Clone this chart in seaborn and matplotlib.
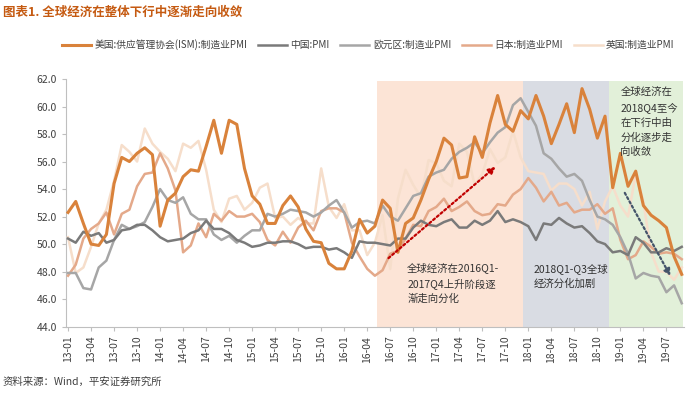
import numpy as np
import pandas as pd
import matplotlib.pyplot as plt
import seaborn as sns

# monthly PMI, 2013-01 .. 2019-09
us = [52.3, 53.1, 51.5, 50.0, 49.9, 50.7, 54.4, 56.3, 56.0, 56.6, 57.0, 56.5,
      51.3, 53.2, 53.7, 54.9, 55.4, 55.3, 57.1, 59.0, 56.6, 59.0, 58.7, 55.5,
      53.5, 52.9, 51.5, 51.5, 52.8, 53.5, 52.7, 51.1, 50.2, 50.1, 48.6, 48.2,
      48.2, 49.5, 51.8, 50.8, 51.3, 53.2, 52.6, 49.4, 51.5, 51.9, 53.2, 54.7,
      56.0, 57.7, 57.2, 54.8, 54.9, 57.8, 56.3, 58.8, 60.8, 58.7, 58.2, 59.7,
      59.1, 60.8, 59.3, 57.3, 58.7, 60.2, 58.1, 61.3, 59.8, 57.7, 59.3, 54.1,
      56.6, 54.2, 55.3, 52.8, 52.1, 51.7, 51.2, 49.1, 47.8]
china = [50.4, 50.1, 50.9, 50.6, 50.8, 50.1, 50.3, 51.0, 51.1, 51.4, 51.4, 51.0,
         50.5, 50.2, 50.3, 50.4, 50.8, 51.0, 51.7, 51.1, 51.1, 50.8, 50.3, 50.1,
         49.8, 49.9, 50.1, 50.1, 50.2, 50.2, 50.0, 49.7, 49.8, 49.8, 49.6, 49.7,
         49.4, 49.0, 50.2, 50.1, 50.1, 50.0, 49.9, 50.4, 50.4, 51.2, 51.7, 51.4,
         51.3, 51.6, 51.8, 51.2, 51.2, 51.7, 51.4, 51.7, 52.4, 51.6, 51.8, 51.6,
         51.3, 50.3, 51.5, 51.4, 51.9, 51.5, 51.2, 51.3, 50.8, 50.2, 50.0, 49.4,
         49.5, 49.2, 50.5, 50.1, 49.4, 49.4, 49.7, 49.5, 49.8]
euro = [47.9, 47.9, 46.8, 46.7, 48.3, 48.8, 50.3, 51.4, 51.1, 51.3, 51.6, 52.7,
        54.0, 53.2, 53.0, 53.4, 52.2, 51.8, 51.8, 50.7, 50.3, 50.6, 50.1, 50.6,
        51.0, 51.0, 52.2, 52.0, 52.2, 52.5, 52.4, 52.3, 52.0, 52.3, 52.8, 53.2,
        52.3, 51.2, 51.6, 51.7, 51.5, 52.8, 52.0, 51.7, 52.6, 53.5, 53.7, 54.9,
        55.2, 55.4, 56.2, 56.7, 57.0, 57.4, 56.6, 57.4, 58.1, 58.5, 60.1, 60.6,
        59.6, 58.6, 56.6, 56.2, 55.5, 54.9, 55.1, 54.6, 53.2, 52.0, 51.8, 51.4,
        50.5, 49.3, 47.5, 47.9, 47.7, 47.6, 46.5, 47.0, 45.7]
japan = [47.7, 48.5, 50.4, 51.1, 51.5, 52.3, 50.7, 52.2, 52.5, 54.2, 55.1, 55.2,
         56.6, 55.5, 53.9, 49.4, 49.9, 51.5, 50.5, 52.2, 51.7, 52.4, 52.0, 52.0,
         52.2, 51.6, 50.3, 49.9, 50.9, 50.1, 51.2, 51.7, 51.0, 52.4, 52.6, 52.6,
         52.3, 50.1, 49.1, 48.2, 47.7, 48.1, 49.3, 49.5, 50.4, 51.4, 51.3, 52.4,
         52.7, 53.3, 52.4, 52.7, 53.1, 52.4, 52.1, 52.2, 52.9, 52.8, 53.6, 54.0,
         54.8, 54.1, 53.1, 53.8, 52.8, 53.0, 52.3, 52.5, 52.5, 52.9, 52.2, 52.6,
         50.3, 48.9, 49.2, 50.2, 49.8, 49.3, 49.4, 49.3, 48.9]
uk = [50.5, 47.9, 48.3, 49.8, 51.5, 52.5, 54.6, 57.2, 56.7, 56.0, 58.4, 57.3,
      56.7, 56.2, 55.3, 57.3, 57.0, 57.5, 55.4, 52.5, 51.6, 53.3, 53.5, 52.5,
      53.0, 54.1, 54.4, 51.9, 52.0, 51.4, 51.9, 51.5, 51.5, 55.5, 52.7, 51.9,
      52.9, 51.0, 51.0, 49.2, 50.1, 52.1, 48.2, 53.3, 55.4, 54.3, 53.4, 56.1,
      55.9, 54.6, 54.2, 57.3, 56.7, 54.3, 55.1, 56.9, 55.9, 56.3, 58.2, 56.3,
      55.3, 55.2, 55.1, 53.9, 54.4, 54.4, 54.0, 52.8, 53.8, 51.1, 53.1, 54.2,
      52.8, 52.0, 55.1, 53.1, 49.4, 48.0, 48.0, 47.4, 48.3]

names = ["美国:供应管理协会(ISM):制造业PMI", "中国:PMI", "欧元区:制造业PMI",
         "日本:制造业PMI", "英国:制造业PMI"]
colors = ["#D9823B", "#7A7A7A", "#A6A6A6", "#E4A98A", "#F6DECB"]
widths = [2.2, 1.8, 1.8, 1.8, 1.8]

months = pd.period_range("2013-01", "2019-09", freq="M")
month_labels = list(months.strftime("%y-%m"))

df = pd.DataFrame({"idx": np.arange(len(months))})
for n, s in zip(names, [us, china, euro, japan, uk]):
    df[n] = s
long = df.melt(id_vars="idx", var_name="series", value_name="pmi")

plt.rcParams['font.family'] = ['Noto Sans CJK SC', 'DejaVu Sans']
fig = plt.figure(figsize=(6.92, 3.94), dpi=100)
ax = fig.add_axes([0.095, 0.171, 0.8935, 0.6285])

# phase shading
ax.axvspan(40.3, 59.3, ymin=0, ymax=0.993, color="#FCE4D6", lw=0, zorder=0)
ax.axvspan(59.3, 70.5, ymin=0, ymax=0.993, color="#D9DCE3", lw=0, zorder=0)
ax.axvspan(70.5, 80.2, ymin=0, ymax=0.993, color="#E2F0D9", lw=0, zorder=0)

# draw back-to-front so the US line stays on top
for n, c, w in list(zip(names, colors, widths))[::-1]:
    sns.lineplot(data=long[long.series == n], x="idx", y="pmi", color=c,
                 linewidth=w, ax=ax, label=n, zorder=3)

ax.annotate("", xy=(56.0, 55.75), xytext=(41.5, 48.85),
            arrowprops=dict(arrowstyle="-|>", color="#C00000", lw=1.6,
                            linestyle=(0, (1, 1.2)), mutation_scale=10), zorder=4)
ax.annotate("", xy=(78.7, 47.5), xytext=(72.4, 53.9),
            arrowprops=dict(arrowstyle="-|>", color="#44546A", lw=1.6,
                            linestyle=(0, (1, 1.2)), mutation_scale=10), zorder=4)

ax.text(44.2, 48.7, "全球经济在2016Q1-\n2017Q4上升阶段逐\n渐走向分化", fontsize=7.5,
        color="#333333", va="top", linespacing=1.55, zorder=5)
ax.text(60.7, 48.6, "2018Q1-Q3全球\n经济分化加剧", fontsize=7.5,
        color="#333333", va="top", linespacing=1.55, zorder=5)
ax.text(72.0, 61.4, "全球经济在\n2018Q4至今\n在下行中由\n分化逐步走\n向收敛", fontsize=7.5,
        color="#333333", va="top", linespacing=1.55, zorder=5)

ax.set_xlim(-0.3, 80.3)
ax.set_ylim(44, 62)
ax.set_yticks(np.arange(44, 62.1, 2))
ax.set_yticklabels([f"{v:.1f}" for v in np.arange(44, 62.1, 2)], fontsize=7.5, color="#404040")
ax.set_xticks(range(0, len(months), 3))
ax.set_xticklabels(month_labels[::3], rotation=90, fontsize=7.5, color="#404040")
ax.set_xlabel("")
ax.set_ylabel("")
for s in ["top", "right"]:
    ax.spines[s].set_visible(False)
for s in ["left", "bottom"]:
    ax.spines[s].set_color("#BFBFBF")
    ax.spines[s].set_linewidth(0.8)
ax.tick_params(axis="both", length=3, color="#BFBFBF", width=0.8)

handles, labels = ax.get_legend_handles_labels()
ax.get_legend().remove()
order = [labels.index(n) for n in names]
fig.legend([handles[i] for i in order], [labels[i] for i in order], ncol=5,
           loc="center", bbox_to_anchor=(0.532, 0.886), frameon=False,
           fontsize=7, handlelength=3.0, columnspacing=1.1, handletextpad=0.35,
           labelcolor="#404040", borderpad=0.1)

fig.text(0.004, 0.968, "图表1. 全球经济在整体下行中逐渐走向收敛", fontsize=9,
         fontweight="bold", color="#C55A11", va="center")
fig.text(0.004, 0.03, "资料来源：Wind，平安证券研究所", fontsize=7.5,
         color="#404040", va="center")

fig.savefig("out.png", dpi=100)
